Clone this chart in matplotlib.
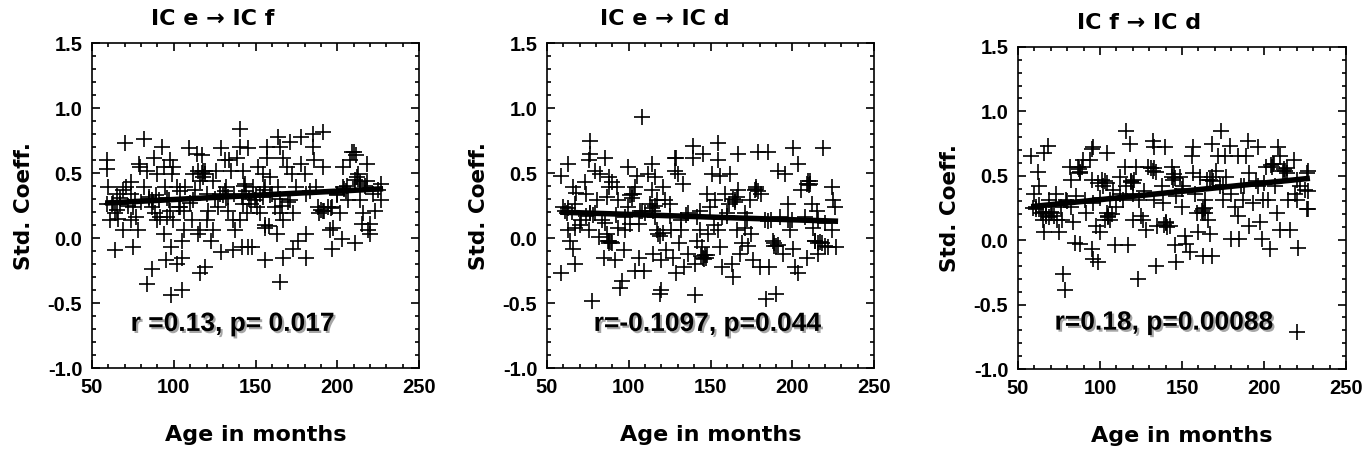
import matplotlib
matplotlib.use('Agg')
import matplotlib.pyplot as plt
import matplotlib.patheffects as pe
from matplotlib.ticker import MultipleLocator

# panel titles and stats text
titles = ['IC e \u2192 IC f', 'IC e \u2192 IC d', 'IC f \u2192 IC d']
stats = ['r =0.13, p= 0.017', 'r=-0.1097, p=0.044', 'r=0.18, p=0.00088']

# IC e -> IC f
age_ef = [59, 59, 60, 59, 62, 61, 64, 65, 64, 67, 66, 70, 69, 69, 71, 74, 74, 75, 76, 75, 77, 74, 78,
          78.5, 79.5, 82, 83.6, 81.5, 84.6, 86.6, 87.6, 89.7, 86.6, 88.7, 89.7, 90.7, 93, 93.7, 94.8,
          91.7, 93.7, 86.6, 83.6, 95, 95.8,
          97.8, 99.8, 98.8, 96.8, 97.8, 99.8, 98, 102, 105, 98, 105, 101.9, 104, 105, 106, 107, 109,
          112, 113, 112, 111, 114, 115, 116, 116, 115, 116, 119,
          117, 118, 119, 120, 121, 120, 123, 124, 126, 124, 128, 129, 127, 129, 131, 132, 133, 134,
          135, 133, 136, 136.5, 137.5,
          140.5, 140.5, 138.5, 142.6, 143.6, 141.6, 142.6, 144.6, 140.5, 141.5, 145.6, 148, 145.6,
          148.7, 149.7, 150.7, 151.7, 154.8, 155.8, 154.8, 155.8, 155.8, 152.7, 157, 157,
          159, 160, 162, 164, 165, 167, 164, 165, 163, 167, 165, 167, 169, 171, 172, 171, 173, 173,
          175, 176,
          178, 178, 180, 181, 181, 181, 185, 185, 186, 187, 188, 189, 191, 191, 192, 195.5, 196.5,
          196.5, 197.5,
          199.5, 201.6, 202.6, 203.6, 203.6, 206.6, 207.7, 208.7, 210, 211.3, 210.7, 212.8, 213.8,
          213.8, 216, 214.8, 218, 218, 220, 219, 220, 222, 223, 225, 227, 227,
          63, 65, 67, 72, 85, 87, 89, 103, 104, 106, 117, 118, 119, 130, 131, 132, 143, 144, 146,
          147, 153, 155, 156, 158, 159, 165, 166, 190, 191, 194, 196, 204, 205, 206, 211, 212, 214,
          80, 96, 110, 125, 137, 150, 170, 183, 200, 217]
coef_ef = [0.60, 0.53, 0.39, 0.26, 0.26, 0.14, 0.19, 0.34, -0.09, 0.26, 0.15, 0.73, 0.06, 0.37, 0.39,
           0.43, 0.34, 0.24, 0.29, -0.07, 0.16, 0.14, 0.06,
           0.57, 0.55, 0.76, 0.52, 0.39, 0.32, 0.29, 0.62, 0.49, 0.24, 0.19, 0.14, 0.29, 0.70, 0.55,
           0.39, 0.16, 0.03, -0.24, -0.35, -0.17, 0.16,
           0.60, 0.55, 0.49, 0.29, 0.21, 0.14, -0.07, -0.20, -0.15, -0.44, -0.40, 0.39, 0.24, -0.02,
           0.06, 0.39, 0.69, 0.49, 0.37, 0.29, 0.14, 0.65, 0.52, 0.44, 0.06, 0.03, -0.27, -0.22,
           0.64, 0.52, 0.49, 0.34, 0.21, 0.14, -0.02, 0.06, 0.52, 0.44, 0.34, 0.69, 0.24, -0.11,
           0.60, 0.39, 0.32, 0.60, 0.52, 0.21, 0.14, -0.09, 0.06,
           0.84, 0.70, 0.62, 0.52, 0.42, 0.32, 0.26, 0.19, 0.14, -0.07, -0.07, -0.07, 0.69, 0.39,
           0.29, 0.24, 0.55, 0.49, 0.39, 0.32, 0.08, -0.17, 0.19, 0.70, 0.62,
           0.47, 0.34, 0.24, 0.78, 0.70, 0.62, 0.39, 0.19, 0.03, 0.14, -0.34, -0.15, 0.55, 0.74,
           0.49, 0.29, 0.19, -0.08, 0.39, -0.02,
           0.78, 0.57, 0.49, 0.34, 0.03, -0.15, 0.80, 0.70, 0.60, 0.39, 0.24, 0.19, 0.82, 0.55,
           0.21, 0.06, 0.24, -0.08, 0.08,
           0.34, 0.19, -0.01, 0.55, 0.39, 0.29, 0.60, 0.66, 0.66, 0.64, -0.04, 0.49, 0.42, 0.29,
           0.19, 0.11, 0.57, 0.44, 0.11, 0.06, 0.03, 0.34, 0.21, 0.37, 0.42, 0.29,
           0.27, 0.22, 0.31, 0.25, 0.30, 0.28, 0.33, 0.24, 0.36, 0.21, 0.50, 0.47, 0.52, 0.33, 0.36,
           0.31, 0.40, 0.36, 0.30, 0.26, 0.34, 0.37, 0.10, 0.09, 0.33, 0.30, 0.25, 0.22, 0.21, 0.24,
           0.23, 0.38, 0.36, 0.40, 0.45, 0.47, 0.43,
           0.28, 0.31, 0.27, 0.30, 0.34, 0.33, 0.28, 0.36, 0.33, 0.40]

# IC e -> IC d
age_ed = [58.7, 58.7, 63, 60, 62, 63, 64, 66, 67, 66, 68, 67, 67, 71, 73, 74, 76.5, 76.5, 75.4, 76.5,
          75.4, 77.5, 79.5, 80.5, 82.6, 83.6, 84.6, 81.5, 85.6, 86.6, 87.6, 87.6, 86.6, 87.6, 89.7,
          89.7, 91.7, 92.7, 93.7, 93.7, 94.8, 95.8, 96.8, 97.8, 97.8, 99.8, 99.8, 101.9, 100.9,
          104, 104, 105, 106, 106, 108, 109, 110, 112, 113, 114, 114, 115, 116, 117, 117, 118, 120,
          119, 120, 121, 122, 123, 125, 126, 127, 128, 128, 129, 129, 130, 131, 132, 133, 134, 136,
          136, 139.5, 139.5, 140.5, 140.5, 141.5, 141.5, 143.6, 144.6, 145.6, 145.6, 146.6, 147.7,
          148.7, 149.7, 150.7, 152.7, 154.8, 154.8, 155.8, 154.8, 155.8, 157, 159, 160, 161, 162,
          163, 164, 165, 166, 167, 167, 168, 169, 171, 173, 174, 175, 176, 178, 179, 180, 181, 183,
          185, 184, 186, 188, 189, 190, 191.5, 192.4, 194.5, 195.5, 197.5, 198.5, 200.6, 200.6,
          201.6, 203.6, 203.6, 205.6, 208.7, 209.7, 210.7, 211.8, 212.8, 213.8, 214.8, 216, 218,
          219, 220, 222, 224, 225, 226, 227, 224,
          79.5, 85.6, 108, 116, 132, 143.6, 157, 171, 187, 197.5, 207.7, 216,
          61, 63, 65, 74, 76, 78, 87, 88, 89, 101, 102, 103, 114, 115, 116, 119, 121, 144, 146, 147,
          148, 164, 165, 166, 177, 178, 179, 189, 190, 191, 209, 210, 211, 214, 216, 217,
          70, 92, 107, 125, 135, 152, 160, 172, 185, 200, 220]
coef_ed = [-0.27, 0.48, 0.57, 0.24, 0.19, 0.06, -0.02, -0.08, -0.20, 0.39, 0.35, 0.26, 0.08, 0.14,
           0.43, 0.34, 0.75, 0.65, 0.60, 0.19, 0.06, -0.48, 0.52, 0.29, 0.49, 0.14, -0.15, 0.01,
           0.62, 0.32, 0.47, 0.39, 0.03, -0.02, 0.43, -0.04, -0.17, 0.39, 0.29, 0.08, -0.38, -0.33,
           -0.09, 0.06, 0.16, 0.55, 0.24, 0.34, 0.11,
           0.39, -0.25, 0.48, 0.11, -0.15, 0.93, -0.25, 0.19, 0.49, 0.26, 0.57, 0.37, -0.12, 0.47,
           0.29, 0.06, 0.03, -0.40, -0.43, -0.17, 0.39, 0.29, -0.09, 0.26, 0.06, -0.15, 0.62, 0.52,
           0.62, -0.27, 0.49, -0.04, 0.06, 0.42, -0.22, 0.19, -0.12, 0.71, 0.62, -0.44, -0.20,
           0.16, -0.02, 0.06, -0.07, 0.65, -0.15, -0.13, 0.34, 0.03, 0.24, 0.49, 0.29, 0.73, 0.60,
           0.48, 0.06, -0.07, -0.22, 0.34, 0.19, 0.26, 0.49, -0.20, -0.30, 0.29, 0.06, 0.65, 0.37,
           -0.12, -0.04, 0.19, -0.06, 0.29, 0.03, -0.17, 0.38, 0.66, -0.22, 0.34, 0.14, 0.66, -0.47,
           -0.22, -0.02, -0.06, -0.43, 0.52, 0.16, -0.12, 0.49, 0.26, 0.06, 0.69, -0.08, -0.22,
           -0.27, 0.57, 0.37, -0.15, 0.44, 0.42, 0.26, 0.08, -0.02, 0.21, -0.12, -0.04, 0.69,
           -0.06, -0.07, 0.39, 0.29, 0.24, -0.07, 0.06,
           0.19, 0.12, 0.21, 0.16, 0.14, 0.21, 0.16, 0.08, 0.14, 0.14, 0.16, 0.14,
           0.21, 0.23, 0.20, 0.17, 0.19, 0.18, -0.02, -0.04, -0.03, 0.33, 0.31, 0.34, 0.23, 0.21,
           0.25, 0.02, 0.04, -0.14, -0.16, -0.15, -0.13, 0.30, 0.28, 0.32, 0.37, 0.39, 0.36, -0.04,
           -0.06, -0.05, 0.42, 0.41, 0.44, -0.02, -0.04, -0.03,
           0.10, 0.18, 0.21, 0.17, 0.18, 0.10, 0.17, 0.15, 0.13, 0.14, 0.12]

# IC f -> IC d
age_fd = [58, 60, 62, 63, 61, 64, 65, 66, 67, 66, 68, 69, 71, 73, 74, 75, 76, 77, 77.5, 78.5, 79.5,
          81.5, 82.5, 82.5, 83.6, 84.6, 85.6, 86.6, 87.6, 87.6, 89.7, 90.7, 91.7, 93.7, 94.8, 94.8,
          95.8, 95.8, 94.8, 95.8, 98.8, 97.8, 98.8, 99.8, 100.9, 102, 103, 104, 104, 105, 106, 108,
          109, 110, 112, 114, 115, 116, 116, 117, 118, 119, 120, 120, 122, 123, 124, 125, 126, 128,
          129, 131, 132, 133, 133, 134, 135, 137.5, 138.5, 139.5, 140.5, 142.6, 143.6, 144.6,
          145.6, 146.6, 146.6, 148.7, 149.7, 150.7, 151.7, 152.7, 154.8, 155.8, 156.8, 156.8,
          157.8, 158.9, 160, 161, 163, 163, 164, 164, 165, 166, 167, 168, 168, 171, 172, 174, 173,
          175, 176, 177, 179, 180, 180, 182, 185, 184, 184, 186, 187, 189, 190, 191, 191, 193.5,
          196.5, 196.5, 197.5, 198.5, 199.5, 201.5, 202.5, 203.6, 205.6, 206.6, 207.7, 208.7,
          209.7, 209.7, 211.7, 213.8, 214.8, 216, 218, 219, 219.9, 219.9, 221, 222, 225, 226, 226,
          227, 227, 227,
          59, 61, 63, 65, 67, 69, 70, 72, 87, 88, 89, 103, 104, 105, 106, 107, 119, 120, 121, 132,
          133, 134, 139, 140, 141, 144, 145, 146, 162, 163, 164, 167, 168, 169, 204, 205, 206, 212,
          213, 214, 80, 100, 112, 127, 150, 175, 188, 195, 200, 220]
coef_fd = [0.65, 0.36, 0.53, 0.42, 0.26, 0.21, 0.16, 0.06, 0.19, 0.68, 0.73, 0.31, 0.21, 0.36, 0.16,
           0.06, 0.26, 0.16, -0.26, -0.39, 0.31, 0.57, 0.47, 0.26, 0.14, -0.02, 0.34, 0.57, 0.52,
           -0.03, 0.62, 0.31, 0.21, 0.62, 0.71, 0.47, 0.72, 0.29, -0.07, -0.15, -0.17, 0.11, 0.44,
           0.06, 0.47, 0.42, 0.16, 0.68, 0.21, 0.19, 0.31, 0.39, -0.04, 0.26, 0.49, 0.31, 0.57,
           0.85, 0.42, -0.04, 0.75, 0.45, 0.36, 0.16, 0.57, -0.30, 0.31, 0.19, 0.16, 0.08, 0.57,
           0.56, 0.77, 0.72, 0.31, -0.20, 0.11, 0.42, 0.29, 0.72, 0.14, 0.11, 0.57, 0.47, -0.04,
           -0.17, 0.34, 0.49, 0.26, 0.42, 0.03, -0.03, -0.09, 0.65, 0.72, 0.52, 0.36, 0.21, 0.06,
           0.49, 0.24, -0.12, 0.21, 0.31, 0.47, 0.16, 0.05, -0.12, 0.75, 0.54, 0.65, 0.85, 0.42,
           0.31, 0.65, 0.49, 0.73, 0.36, 0.01, 0.26, 0.01, 0.65, 0.19, 0.42, 0.31, 0.65, 0.77, 0.52,
           0.11, 0.29, 0.72, 0.42, 0.14, 0.01, 0.31, 0.57, 0.31, -0.07, 0.59, 0.42, 0.21, 0.72,
           0.65, 0.08, 0.54, 0.52, 0.31, 0.08, 0.62, 0.36, -0.71, 0.31, -0.06, 0.42, 0.39, 0.52,
           0.24, 0.38, 0.24, 0.54,
           0.25, 0.24, 0.27, 0.22, 0.20, 0.18, 0.22, 0.19, 0.55, 0.53, 0.57, 0.46, 0.44, 0.18, 0.16,
           0.20, 0.46, 0.44, 0.47, 0.54, 0.56, 0.53, 0.12, 0.13, 0.10, 0.49, 0.51, 0.48, 0.23, 0.21,
           0.25, 0.47, 0.49, 0.46, 0.58, 0.57, 0.59, 0.55, 0.54, 0.56,
           0.30, 0.33, 0.36, 0.38, 0.40, 0.43, 0.42, 0.46, 0.44, 0.47]

# regression lines (endpoints)
fit_age = [58, 228]
fit_ef = [0.27, 0.38]
fit_ed = [0.20, 0.13]
fit_fd = [0.26, 0.48]

# stats text position in data units
stats_x = [136, 148, 139]
stats_y = [-0.66, -0.66, -0.64]
title_x = [0.37, 0.36, 0.37]

panels = [(age_ef, coef_ef, fit_ef), (age_ed, coef_ed, fit_ed), (age_fd, coef_fd, fit_fd)]
boxes = [[0.0672, 0.191, 0.2387, 0.714],
         [0.3993, 0.191, 0.2387, 0.714],
         [0.7431, 0.189, 0.2394, 0.708]]

fig = plt.figure(figsize=(13.7, 4.55), dpi=100)
for i, (ages, coefs, fit) in enumerate(panels):
    ax = fig.add_axes(boxes[i])
    ax.plot(ages, coefs, linestyle='none', marker='+', markersize=11, markeredgewidth=1.2,
            color='black')
    ax.plot(fit_age, fit, color='black', linewidth=4, solid_capstyle='butt')
    ax.set_xlim(50, 250)
    ax.set_ylim(-1.0, 1.5)
    ax.xaxis.set_major_locator(MultipleLocator(50))
    ax.xaxis.set_minor_locator(MultipleLocator(10))
    ax.yaxis.set_major_locator(MultipleLocator(0.5))
    ax.yaxis.set_minor_locator(MultipleLocator(0.1))
    ax.yaxis.set_major_formatter(matplotlib.ticker.FormatStrFormatter('%.1f'))
    ax.tick_params(which='both', direction='in', top=True, right=True, width=1.2)
    ax.tick_params(which='major', length=6, pad=7)
    ax.tick_params(which='minor', length=3)
    for lab in ax.get_xticklabels() + ax.get_yticklabels():
        lab.set_family('Liberation Sans')
        lab.set_fontweight('bold')
        lab.set_fontsize(14.5)
    for sp in ax.spines.values():
        sp.set_linewidth(1.2)
    ax.set_xlabel('Age in months', fontsize=16, fontweight='bold', family='DejaVu Sans',
                  labelpad=20)
    ax.set_ylabel('Std. Coeff.', fontsize=15.5, fontweight='bold', family='DejaVu Sans',
                  labelpad=10)
    ax.text(title_x[i], 1.075, titles[i], transform=ax.transAxes, ha='center', va='center',
            fontsize=16, fontweight='bold', family='DejaVu Sans')
    ax.text(stats_x[i], stats_y[i], stats[i], ha='center', va='center', fontsize=19,
            fontweight='bold', family='Liberation Sans',
            path_effects=[pe.withSimplePatchShadow(offset=(1.5, -1.5), shadow_rgbFace='gray',
                                                   alpha=0.7)])

fig.savefig('out.png', dpi=100)
